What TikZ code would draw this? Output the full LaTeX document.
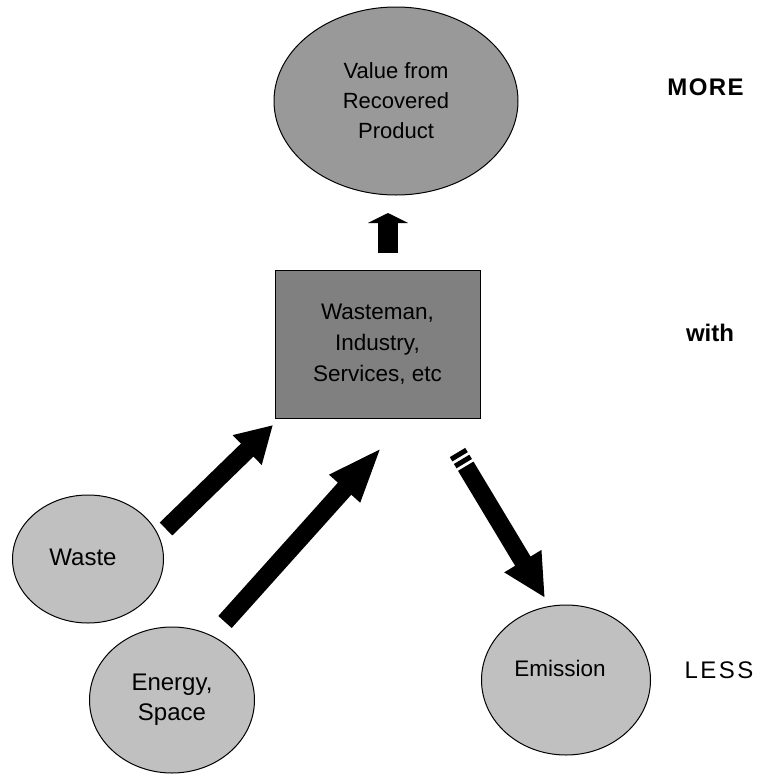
\documentclass[tikz,border=0pt]{standalone}
\usepackage{fontspec}
\setmainfont{Liberation Sans}
\usetikzlibrary{shapes.geometric,arrows.meta,calc}
\definecolor{topgray}{HTML}{999999}
\definecolor{boxgray}{HTML}{808080}
\definecolor{lightgray}{HTML}{C0C0C0}
\tikzset{
  oval/.style={ellipse,draw=black,line width=1pt,inner sep=0pt,align=center,
    font=\fontsize{22}{30}\selectfont},
  smalloval/.style={oval,fill=lightgray,font=\fontsize{24}{30}\selectfont},
  procbox/.style={rectangle,draw=black,line width=1pt,fill=boxgray,inner sep=0pt,
    align=center,font=\fontsize{22.5}{31}\selectfont},
  sidelabel/.style={inner sep=0pt},
  fatarrow/.style={line width=18pt,black},
}
\begin{document}
\begin{tikzpicture}[x=1pt,y=-1pt]
\useasboundingbox (0,0) rectangle (759,774);
% nodes
\node[oval,fill=topgray,minimum width=244pt,minimum height=188pt] (value) at (396,101)
  {Value from\\Recovered\\Product};
\node[procbox,minimum width=205pt,minimum height=148pt] (proc) at (377.5,344)
  {Wasteman,\\Industry,\\Services, etc};
\node[smalloval,minimum width=151pt,minimum height=128pt] (waste) at (88,559) {};
\node[font=\fontsize{24}{30}\selectfont,inner sep=0pt] (wastetext) at (83,557) {Waste};
\node[smalloval,minimum width=165pt,minimum height=146pt] (energy) at (172,700)
  {Energy,\\Space};
\node[smalloval,minimum width=169pt,minimum height=150pt] (emission) at (566,680) {};
\node[font=\fontsize{22.5}{30}\selectfont,inner sep=0pt] (emtext) at (560,668) {Emission};
\node[sidelabel,font=\fontsize{24}{26}\selectfont\bfseries\addfontfeature{LetterSpace=6}] (more) at (705.5,87) {MORE};
\node[sidelabel,font=\fontsize{24}{26}\selectfont\bfseries] (with) at (710,333) {with};
\node[sidelabel,font=\fontsize{24}{26}\selectfont\addfontfeature{LetterSpace=10}] (less) at (719,670) {LESS};
% arrow end points
\coordinate (upT) at (388,253);
\coordinate (upH) at (388,213);
\coordinate (waT) at (166,529);
\coordinate (waH) at (273,425);
\coordinate (enT) at (225,622);
\coordinate (enH) at (382,447);
\coordinate (emT) at (457.5,452.5);
\coordinate (emH) at (545,598);
\coordinate (emS) at ($(emT)!16pt!(emH)$);
% arrows
\draw[line width=20pt,-{Triangle[length=10pt,width=40pt]}] (upT) -- (upH);
\draw[fatarrow,-{Triangle[length=36pt,width=39pt]}] (waT) -- (waH);
\draw[fatarrow,-{Triangle[length=56pt,width=37pt]}] (enT) -- (enH);
\draw[fatarrow,dash pattern=on 5pt off 3pt on 5pt off 3pt] (emT) -- (emS);
\draw[fatarrow,-{Triangle[length=43pt,width=40pt]}] (emS) -- (emH);
\end{tikzpicture}
\end{document}
